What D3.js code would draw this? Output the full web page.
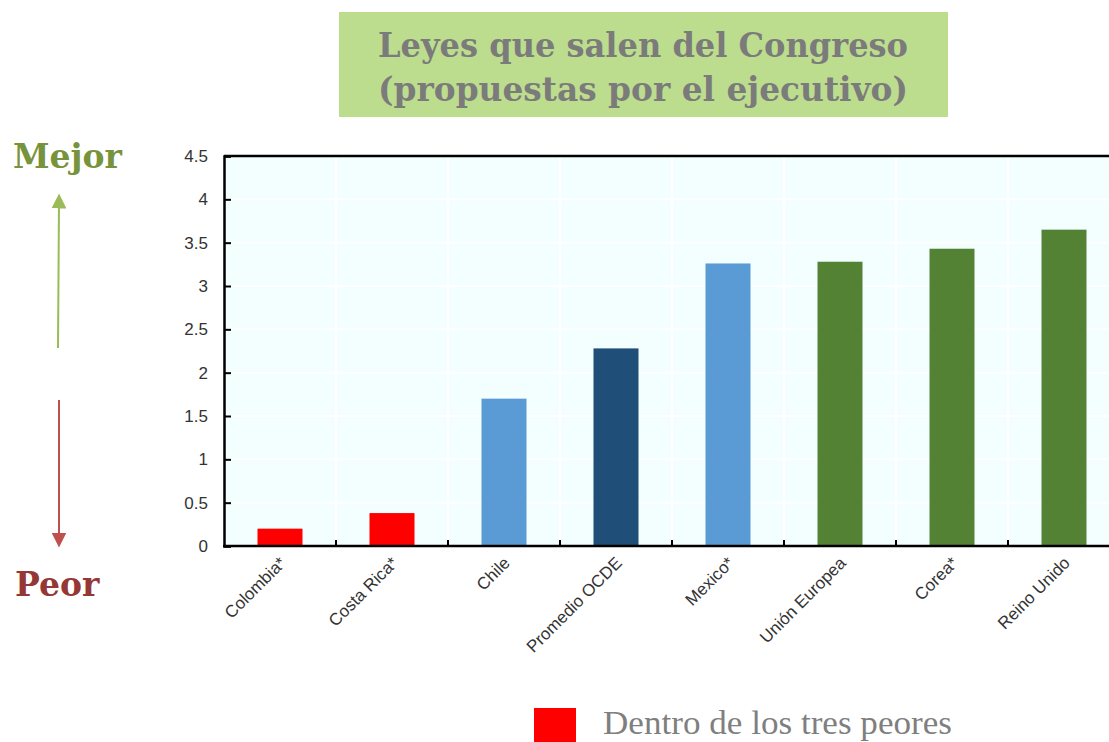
<!DOCTYPE html>
<html>
<head>
<meta charset="utf-8">
<script src="https://cdn.jsdelivr.net/npm/d3@7"></script>
<style>
  body { margin: 0; background: #ffffff; }
  svg { display: block; }
</style>
</head>
<body>
<div id="chart"></div>
<script>
// chart data
var categories = ["Colombia*", "Costa Rica*", "Chile", "Promedio OCDE", "Mexico*", "Unión Europea", "Corea*", "Reino Unido"];
var values = [0.20, 0.38, 1.70, 2.28, 3.26, 3.28, 3.43, 3.65];
var groups = ["peor", "peor", "latam", "ocde", "latam", "ref", "ref", "ref"];
var yTicks = [0, 0.5, 1, 1.5, 2, 2.5, 3, 3.5, 4, 4.5];
var titleLines = ["Leyes que salen del Congreso", "(propuestas por el ejecutivo)"];
var legendLabel = "Dentro de los tres peores";

var colors = {peor: "#ff0000", latam: "#5b9bd5", ocde: "#1f4e79", ref: "#548235"};

var W = 1109, H = 742;
var margin = {top: 156, left: 224, bottom: 196};
var plotH = H - margin.top - margin.bottom;   // 390
var band = 112;

var svg = d3.select("#chart").append("svg")
    .attr("width", W)
    .attr("height", H);

var serif = "'DejaVu Serif', Georgia, serif";
var times = "'Liberation Serif', 'Times New Roman', serif";
var sans = "Arial, 'Liberation Sans', sans-serif";

// title box
svg.append("rect")
    .attr("x", 339).attr("y", 12)
    .attr("width", 609).attr("height", 105)
    .attr("fill", "#bddd8e");

svg.selectAll(".title")
    .data(titleLines)
    .enter().append("text")
    .attr("class", "title")
    .attr("x", 643)
    .attr("y", function(d, i) { return 57 + i * 44; })
    .attr("text-anchor", "middle")
    .attr("font-family", serif)
    .attr("font-weight", "bold")
    .attr("font-size", 33)
    .attr("textLength", 530)
    .attr("lengthAdjust", "spacingAndGlyphs")
    .attr("fill", "#7b7b7b")
    .text(function(d) { return d; });

// scales
var x = d3.scaleBand()
    .domain(categories)
    .range([margin.left, margin.left + band * categories.length])
    .paddingInner(0)
    .paddingOuter(0);

var y = d3.scaleLinear()
    .domain([0, 4.5])
    .range([margin.top + plotH, margin.top]);

var x0 = margin.left, x1 = margin.left + band * categories.length;

// plot background
svg.append("rect")
    .attr("x", x0).attr("y", y(4.5))
    .attr("width", x1 - x0).attr("height", y(0) - y(4.5))
    .attr("fill", "#f3fefe");

// white grid
svg.append("g")
    .selectAll("line")
    .data(yTicks.slice(1))
    .enter().append("line")
    .attr("x1", x0).attr("x2", x1)
    .attr("y1", function(d) { return y(d); })
    .attr("y2", function(d) { return y(d); })
    .attr("stroke", "#ffffff")
    .attr("stroke-width", 2);

svg.append("g")
    .selectAll("line")
    .data(categories.slice(1))
    .enter().append("line")
    .attr("x1", function(d) { return x(d); })
    .attr("x2", function(d) { return x(d); })
    .attr("y1", y(4.5)).attr("y2", y(0))
    .attr("stroke", "#ffffff")
    .attr("stroke-width", 2);

// bars
var barW = 45;
svg.selectAll(".bar")
    .data(categories)
    .enter().append("rect")
    .attr("class", "bar")
    .attr("x", function(d) { return x(d) + (x.bandwidth() - barW) / 2; })
    .attr("y", function(d, i) { return y(values[i]); })
    .attr("width", barW)
    .attr("height", function(d, i) { return y(0) - y(values[i]); })
    .attr("fill", function(d, i) { return colors[groups[i]]; });

// y axis
var yAxis = d3.axisLeft(y)
    .tickValues(yTicks)
    .tickSize(-7)
    .tickPadding(16)
    .tickFormat(d3.format("~g"));

var gy = svg.append("g")
    .attr("transform", "translate(" + x0 + ",0)")
    .call(yAxis);
gy.attr("font-size", null).attr("font-family", null);
gy.select(".domain").attr("stroke", "#000").attr("stroke-width", 2.5);
gy.selectAll(".tick line").attr("stroke", "#000").attr("stroke-width", 2);
gy.selectAll(".tick text")
    .style("font-family", sans)
    .style("font-size", "17px")
    .attr("fill", "#333");

// top border
svg.append("line")
    .attr("x1", x0).attr("x2", x1)
    .attr("y1", y(4.5)).attr("y2", y(4.5))
    .attr("stroke", "#000").attr("stroke-width", 2.5);

// x axis
var gx = svg.append("g")
    .attr("transform", "translate(0," + y(0) + ")");

gx.append("line")
    .attr("x1", x0 - 1).attr("x2", x1)
    .attr("stroke", "#000").attr("stroke-width", 2.5);

gx.selectAll(".xtick")
    .data(categories.slice(1))
    .enter().append("line")
    .attr("x1", function(d) { return x(d); })
    .attr("x2", function(d) { return x(d); })
    .attr("y1", 0).attr("y2", -6)
    .attr("stroke", "#000").attr("stroke-width", 2);

gx.selectAll(".xlabel")
    .data(categories)
    .enter().append("text")
    .attr("class", "xlabel")
    .attr("text-anchor", "end")
    .style("font-family", sans)
    .style("font-size", "17px")
    .attr("fill", "#333")
    .attr("transform", function(d) {
        return "translate(" + (x(d) + x.bandwidth() / 2 + 7) + ",18) rotate(-45)";
    })
    .text(function(d) { return d; });

// Mejor / Peor arrows
svg.append("defs").selectAll("marker")
    .data([["up", "#9bbb59"], ["down", "#c0504d"]])
    .enter().append("marker")
    .attr("id", function(d) { return "arrow-" + d[0]; })
    .attr("viewBox", "0 0 10 10")
    .attr("refX", 5).attr("refY", 5)
    .attr("markerWidth", 7.5).attr("markerHeight", 7.5)
    .attr("orient", "auto")
    .append("path")
    .attr("d", "M0,0 L10,5 L0,10 Z")
    .attr("fill", function(d) { return d[1]; });

svg.append("line")
    .attr("x1", 58).attr("y1", 348)
    .attr("x2", 59).attr("y2", 201)
    .attr("stroke", "#9bbb59").attr("stroke-width", 2)
    .attr("marker-end", "url(#arrow-up)");

svg.append("line")
    .attr("x1", 59).attr("y1", 400)
    .attr("x2", 59).attr("y2", 540)
    .attr("stroke", "#c0504d").attr("stroke-width", 2)
    .attr("marker-end", "url(#arrow-down)");

svg.append("text")
    .attr("x", 13).attr("y", 168)
    .attr("font-family", serif)
    .attr("font-weight", "bold")
    .attr("font-size", 33)
    .attr("fill", "#77933c")
    .text("Mejor");

svg.append("text")
    .attr("x", 15).attr("y", 596)
    .attr("font-family", serif)
    .attr("font-weight", "bold")
    .attr("font-size", 33)
    .attr("fill", "#953735")
    .text("Peor");

// legend
svg.append("rect")
    .attr("x", 534).attr("y", 708)
    .attr("width", 42).attr("height", 34)
    .attr("fill", colors.peor);

svg.append("text")
    .attr("x", 603).attr("y", 734)
    .attr("font-family", times)
    .attr("font-size", 34)
    .attr("textLength", 349)
    .attr("lengthAdjust", "spacingAndGlyphs")
    .attr("fill", "#7f7f7f")
    .text(legendLabel);
</script>
</body>
</html>
